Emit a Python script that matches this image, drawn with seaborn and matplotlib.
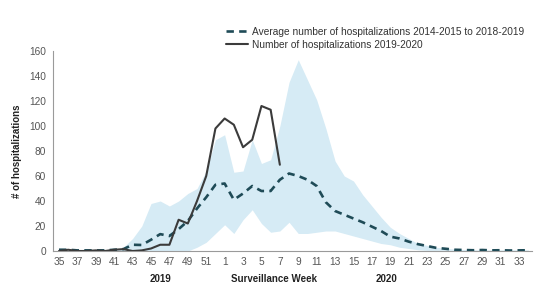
import numpy as np
import pandas as pd
import matplotlib
matplotlib.use("Agg")
import matplotlib.pyplot as plt
import seaborn as sns
from matplotlib.lines import Line2D

# ---- data ----
weeks = list(range(35, 53)) + list(range(1, 35))
avg_hosp = [1, 1, 0.5, 0.5, 0.5, 0.5, 1, 1.5, 5, 4.8, 9, 13.5, 12, 17.5, 24, 34, 43, 53,
            54, 41, 46, 52, 48, 48, 57, 62, 60, 57, 52, 39, 32, 29, 26, 23, 19.5, 16,
            11.5, 10, 7.5, 5.5, 4, 2.5, 1.8, 1, 0.8, 0.6, 0.8, 0.5, 0.6, 0.4, 0.5, 0.6]
range_upper = [0, 0, 0, 0, 0, 0, 0.5, 3, 10, 20, 38, 40, 36, 40, 46, 50, 64, 89,
               93, 63, 64, 89, 70, 73, 100, 135, 153, 137, 121, 98, 72, 60, 56, 45, 36, 27,
               19, 14, 10, 6, 4.5, 3, 2.2, 1.5, 1.2, 1, 1, 1, 1, 1, 1, 1]
range_lower = [0, 0, 0, 0, 0, 0, 0, 0, 0, 0, 0, 0, 0, 0, 0, 3, 7, 14,
               21, 14, 25, 33, 22, 15, 16, 23, 14, 14, 15, 16, 16, 14, 12, 10, 8, 6,
               5, 3, 2, 1, 0.5, 0.5, 0.5, 0.5, 0.5, 0.5, 0.5, 0.5, 0.5, 0.5, 0.5, 0.5]
obs_hosp = [0, 1, 0, 0, 0.5, 0, 1, 1.5, 0, 0.5, 2, 5, 5, 25, 22, 40, 60, 98,
            106, 101, 83, 89, 116, 113, 69]
yticks = [0, 20, 40, 60, 80, 100, 120, 140, 160]
avg_label = "Average number of hospitalizations 2014-2015 to 2018-2019"
obs_label = "Number of hospitalizations 2019-2020"

idx = np.arange(len(weeks))
df_avg = pd.DataFrame({"i": idx, "v": avg_hosp})
df_obs = pd.DataFrame({"i": idx[:len(obs_hosp)], "v": obs_hosp})

sns.set_theme(style="white")
plt.rcParams["font.family"] = ["Liberation Sans", "DejaVu Sans"]

fig = plt.figure(figsize=(5.34, 2.88), dpi=100)
ax = fig.add_axes([53/534, 37/288, 479/534, 200/288])

band_c = "#d6ebf5"
ax.fill_between(idx, range_lower, range_upper, color=band_c, lw=0, zorder=1)

sns.lineplot(data=df_avg, x="i", y="v", ax=ax, color="#1f4b57", lw=1.9,
             linestyle=(0, (2.8, 2.0)), zorder=3)
sns.lineplot(data=df_obs, x="i", y="v", ax=ax, color="#3b3b3b", lw=1.5, zorder=4)

ax.set_xlim(-0.65, 51.4)
ax.set_ylim(0, 160)
ax.set_yticks(yticks)
ax.set_yticklabels([str(t) for t in yticks])
ax.set_xticks(idx)
ax.set_xticklabels([str(w) if k % 2 == 0 else "" for k, w in enumerate(weeks)])
ax.set_xlabel("")
ax.set_ylabel("# of hospitalizations", fontsize=7, fontweight="bold",
              color="#222222", labelpad=5)

tc = "#555555"
ax.tick_params(axis="both", labelsize=7.3, colors=tc, length=3, width=0.6,
               pad=2, direction="out")
ax.tick_params(axis="x", pad=1.5)
sns.despine(ax=ax)
for s in ["left", "bottom"]:
    ax.spines[s].set_color("#9a9a9a")
    ax.spines[s].set_linewidth(0.8)
ax.tick_params(axis="both", color="#9a9a9a")
ax.set_facecolor("white")
ax.grid(False)

fig.text(160/534, 1 - 279/288, "2019", fontsize=7, fontweight="bold",
         color="#222222", ha="center", va="center")
fig.text(274/534, 1 - 279/288, "Surveillance Week", fontsize=7, fontweight="bold",
         color="#222222", ha="center", va="center")
fig.text(387/534, 1 - 279/288, "2020", fontsize=7, fontweight="bold",
         color="#222222", ha="center", va="center")

handles = [Line2D([], [], color="#1f4b57", lw=1.9, linestyle=(0, (2.8, 2.0))),
           Line2D([], [], color="#3b3b3b", lw=1.5)]
fig.legend(handles, [avg_label, obs_label], loc="upper left",
           bbox_to_anchor=(226/534, 1 - 27/288), frameon=False, fontsize=7.25,
           handlelength=2.2, handletextpad=0.4, labelspacing=0.3,
           borderpad=0, borderaxespad=0, labelcolor="#333333")

fig.savefig("out.png", dpi=100, facecolor="white")
